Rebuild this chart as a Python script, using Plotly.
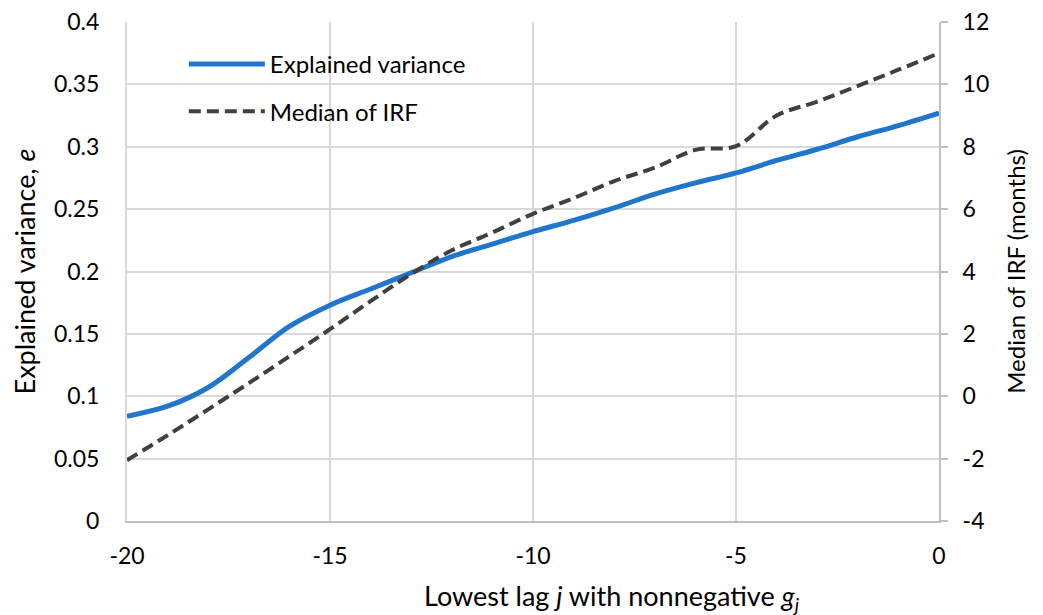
import plotly.graph_objects as go

lags = [-20, -19, -18, -17, -16, -15, -14, -13, -12, -11, -10, -9, -8, -7, -6, -5, -4, -3, -2, -1, 0]
explained_variance = [0.084, 0.092, 0.107, 0.131, 0.156, 0.173, 0.186, 0.199, 0.212, 0.222, 0.232, 0.241, 0.251, 0.262, 0.271, 0.279, 0.289, 0.298, 0.308, 0.317, 0.327]
median_irf = [-2.05, -1.25, -0.42, 0.42, 1.28, 2.15, 3.05, 3.92, 4.68, 5.25, 5.85, 6.35, 6.9, 7.33, 7.9, 8.02, 9.0, 9.45, 9.95, 10.47, 11.0]

left_ticks = [0, 0.05, 0.1, 0.15, 0.2, 0.25, 0.3, 0.35, 0.4]
left_labels = ["0", "0.05", "0.1", "0.15", "0.2", "0.25", "0.3", "0.35", "0.4"]
right_ticks = [-4, -2, 0, 2, 4, 6, 8, 10, 12]
x_ticks = [-20, -15, -10, -5, 0]

x_title = "Lowest lag <i>j</i> with nonnegative <i>g</i><sub><i>j</i></sub>"
y_title = "Explained variance, <i>e</i>"
y2_title = "Median of IRF (months)"

FONT = "Lato"
TXT = "#000000"
GRID = "#d9d9d9"
AXIS = "#bfbfbf"

fig = go.Figure()
fig.add_trace(go.Scatter(
    x=lags, y=explained_variance, name="Explained variance", legendgroup="a",
    mode="lines", line=dict(color="#1f76cc", width=5, shape="spline", smoothing=1.0),
    yaxis="y"))
fig.add_trace(go.Scatter(
    x=lags, y=median_irf, name="Median of IRF", legendgroup="b",
    mode="lines", line=dict(color="#404040", width=4, dash="12px,6px", shape="spline", smoothing=1.0),
    yaxis="y2"))

fig.update_layout(
    width=1043, height=615,
    margin=dict(l=119, r=112, t=14, b=102, autoexpand=False),
    paper_bgcolor="white", plot_bgcolor="white",
    font=dict(family=FONT, size=23, color=TXT),
    xaxis=dict(range=[-20, 0], tickvals=x_ticks, ticktext=[str(v) for v in x_ticks],
               showgrid=True, gridcolor=GRID, gridwidth=2, zeroline=False,
               showline=True, linecolor=AXIS, linewidth=2, ticks="",
               ticklabelstandoff=13, ticklabeloverflow="allow", automargin=False),
    yaxis=dict(range=[0, 0.4], tickvals=left_ticks, ticktext=left_labels,
               showgrid=True, gridcolor=GRID, gridwidth=2, zeroline=False,
               showline=True, linecolor=GRID, linewidth=2, ticks="",
               ticklabelstandoff=21, ticklabeloverflow="allow", automargin=False,
               title=dict(text=y_title, font=dict(size=27), standoff=12)),
    yaxis2=dict(range=[-4, 12], tickvals=right_ticks, ticktext=[str(v) for v in right_ticks],
                overlaying="y", side="right", showgrid=False, zeroline=False,
                showline=True, linecolor=AXIS, linewidth=2,
                ticks="outside", ticklen=7, tickwidth=2, tickcolor=AXIS,
                ticklabelstandoff=10, ticklabeloverflow="allow", automargin=False,
                title=dict(text=y2_title, font=dict(size=24), standoff=20)),
    legend=dict(x=0.07, y=0.96, xanchor="left", yanchor="top",
                bgcolor="rgba(255,255,255,0)", font=dict(size=24),
                tracegroupgap=13, itemwidth=76),
    showlegend=True,
)

fig.add_annotation(text=x_title, xref="paper", yref="paper", x=0.597, y=-0.154,
                   xanchor="center", yanchor="middle", showarrow=False,
                   font=dict(size=27, family=FONT, color=TXT))

fig.write_html("out.html")
